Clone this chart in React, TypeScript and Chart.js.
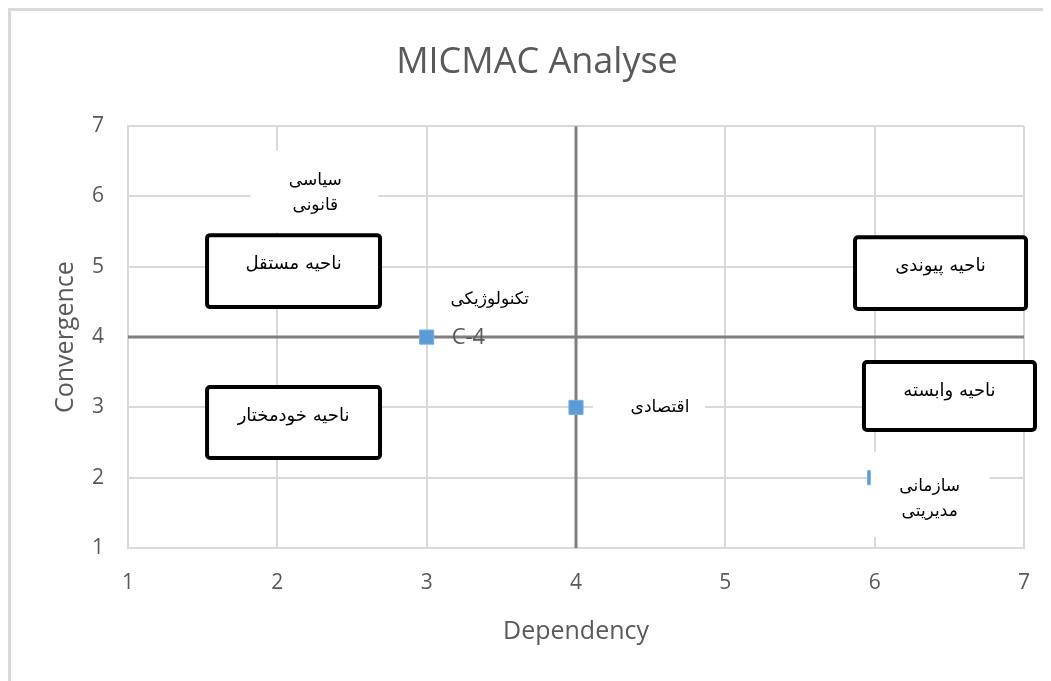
import React, { useEffect, useRef } from 'react';
import { Chart, registerables } from 'chart.js';

Chart.register(...registerables);

// ---- data ----
const dependency = [2, 3, 4, 6];
const convergence = [6, 4, 3, 2];
const factorLabels = [['سیاسی', 'قانونی'], ['تکنولوژیکی'], ['اقتصادی'], ['سازمانی', 'مدیریتی']];
const pointCodes = ['', 'C-4', '', ''];
const axisTicks = [1, 2, 3, 4, 5, 6, 7];
const quadrantNames = ['ناحیه مستقل', 'ناحیه پیوندی', 'ناحیه خودمختار', 'ناحیه وابسته'];
const crossDependency = 4;
const crossConvergence = 4;

// ---- annotation layout (pixel offsets from the point) ----
const labelLayout = [
  { dx: 38, dy: [-16, 9], bg: [-27, -46, 101, 36] },
  { dx: 63, dy: [-38], bg: null },
  { dx: 84, dy: [0], bg: [17, -20, 129, 20] },
  { dx: 55, dy: [9, 34], bg: [-4, -26, 115, 59] },
];
// quadrant boxes in axis units: [x0, y0(top), x1, y1(bottom)]
const quadrantBoxes = [
  [1.516, 5.479, 2.701, 4.398],
  [5.855, 5.45, 7.027, 4.37],
  [1.516, 3.317, 2.701, 2.251],
  [5.915, 3.673, 7.087, 2.649],
];

const GREY = '#595959';
const GRID = '#d9d9d9';
const ARABIC_FONT = '"DejaVu Sans", sans-serif';

const overlayPlugin = {
  id: 'overlay',
  afterDatasetsDraw(chart: any) {
    const { ctx } = chart;
    const xs = chart.scales.x;
    const ys = chart.scales.y;
    ctx.save();
    dependency.forEach((dv, i) => {
      const px = xs.getPixelForValue(dv);
      const py = ys.getPixelForValue(convergence[i]);
      const L = labelLayout[i];
      if (L.bg) {
        ctx.fillStyle = '#ffffff';
        ctx.fillRect(px + L.bg[0], py + L.bg[1], L.bg[2] - L.bg[0], L.bg[3] - L.bg[1]);
      }
      ctx.fillStyle = '#000000';
      ctx.font = '17px ' + ARABIC_FONT;
      ctx.textAlign = 'center';
      ctx.textBaseline = 'middle';
      factorLabels[i].forEach((t, j) => ctx.fillText(t, px + L.dx, py + L.dy[j]));
      if (pointCodes[i]) {
        ctx.fillStyle = GREY;
        ctx.font = '22px "Open Sans"';
        ctx.textAlign = 'left';
        ctx.fillText(pointCodes[i], px + 25, py + 1);
      }
    });
    quadrantBoxes.forEach((b, i) => {
      const x0 = xs.getPixelForValue(b[0]) + 2;
      const x1 = xs.getPixelForValue(b[2]) - 2;
      const y0 = ys.getPixelForValue(b[1]) + 2;
      const y1 = ys.getPixelForValue(b[3]) - 2;
      ctx.beginPath();
      if (ctx.roundRect) ctx.roundRect(x0, y0, x1 - x0, y1 - y0, 3);
      else ctx.rect(x0, y0, x1 - x0, y1 - y0);
      ctx.fillStyle = '#ffffff';
      ctx.fill();
      ctx.lineWidth = 4;
      ctx.strokeStyle = '#000000';
      ctx.stroke();
      ctx.fillStyle = '#000000';
      ctx.font = '18px ' + ARABIC_FONT;
      ctx.textAlign = 'center';
      ctx.textBaseline = 'middle';
      ctx.fillText(quadrantNames[i], (x0 + x1) / 2, y0 + 29);
    });
    ctx.restore();
  },
};

export default function App() {
  const ref = useRef<HTMLCanvasElement | null>(null);
  useEffect(() => {
    document.documentElement.style.overflow = 'hidden';
    document.body.style.overflow = 'hidden';
    const canvas = ref.current;
    if (!canvas) return;
    const chart = new Chart(canvas, {
      type: 'scatter',
      data: {
        datasets: [
          {
            label: 'factors',
            data: dependency.map((d, i) => ({ x: d, y: convergence[i] })),
            pointStyle: 'rect',
            pointRadius: 10,
            pointHoverRadius: 10,
            backgroundColor: '#5b9bd5',
            borderColor: '#7aaedd',
            borderWidth: 1,
            showLine: false,
          },
          {
            label: 'vertical',
            data: [
              { x: crossDependency, y: axisTicks[0] },
              { x: crossDependency, y: axisTicks[axisTicks.length - 1] },
            ],
            showLine: true,
            borderColor: '#7f7f7f',
            borderWidth: 3,
            pointRadius: 0,
          },
          {
            label: 'horizontal',
            data: [
              { x: axisTicks[0], y: crossConvergence },
              { x: axisTicks[axisTicks.length - 1], y: crossConvergence },
            ],
            showLine: true,
            borderColor: '#7f7f7f',
            borderWidth: 3,
            pointRadius: 0,
          },
        ],
      },
      options: {
        responsive: false,
        animation: false,
        layout: { padding: { left: 39, right: 39, top: 0, bottom: 0 } },
        plugins: {
          legend: { display: false },
          tooltip: { enabled: false },
          title: {
            display: true,
            text: 'MICMAC Analyse',
            color: GREY,
            font: { family: 'Open Sans', size: 36, weight: 'normal' },
            padding: { top: 30, bottom: 42 },
          },
        },
        scales: {
          x: {
            type: 'linear',
            min: axisTicks[0],
            max: axisTicks[axisTicks.length - 1],
            afterBuildTicks: (s: any) => {
              s.ticks = axisTicks.map((v) => ({ value: v }));
            },
            ticks: { color: GREY, font: { family: 'Open Sans', size: 21 }, padding: 22 },
            grid: { color: GRID, lineWidth: 2, drawTicks: false },
            border: { color: GRID, width: 2 },
            title: {
              display: true,
              text: 'Dependency',
              color: GREY,
              font: { family: 'Open Sans', size: 25 },
              padding: { top: 0, bottom: 34 },
            },
            afterFit: (s: any) => {
              s.height = 133;
            },
          },
          y: {
            type: 'linear',
            min: axisTicks[0],
            max: axisTicks[axisTicks.length - 1],
            afterBuildTicks: (s: any) => {
              s.ticks = axisTicks.map((v) => ({ value: v }));
            },
            ticks: { color: GREY, font: { family: 'Open Sans', size: 21 }, padding: 24 },
            grid: { color: GRID, lineWidth: 2, drawTicks: false },
            border: { color: GRID, width: 2 },
            title: {
              display: true,
              text: 'Convergence',
              color: GREY,
              font: { family: 'Open Sans', size: 25 },
              padding: { top: 1, bottom: 0 },
            },
            afterFit: (s: any) => {
              s.width = 78;
            },
          },
        },
      },
      plugins: [overlayPlugin],
    } as any);
    return () => chart.destroy();
  }, []);

  return (
    <div
      style={{
        width: 1043,
        height: 673,
        overflow: 'hidden',
        borderLeft: '3px solid #d9d9d9',
        borderTop: '3px solid #d9d9d9',
        boxSizing: 'border-box',
        background: '#ffffff',
      }}
    >
      <canvas ref={ref} width={1052} height={670} style={{ display: 'block', width: 1052, height: 670 }} />
    </div>
  );
}
